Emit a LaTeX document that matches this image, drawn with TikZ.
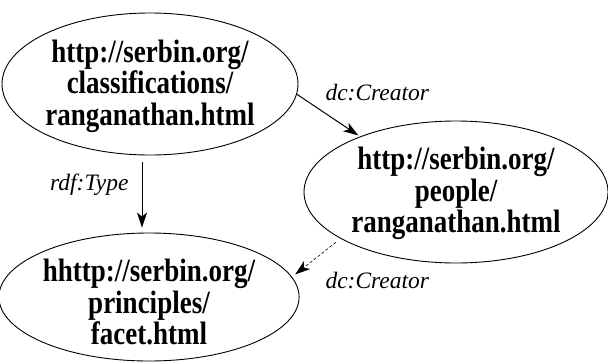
\documentclass[tikz,border=0pt]{standalone}
\usepackage{fontspec}
\setmainfont{Liberation Serif}
\usetikzlibrary{shapes.geometric,arrows.meta}

% node text is set a little taller than the font gives, and a little lower
\newcommand{\tallline}[2][2pt]{\raisebox{-#1}[\height][\depth]{\scalebox{1}[1.2]{#2}}}

\tikzset{
  res/.style={draw, ellipse, inner sep=0pt, line width=0.9pt, align=center,
    font=\fontsize{27}{31.5}\selectfont\bfseries},
  prop/.style={font=\fontsize{23.5}{26}\selectfont\itshape},
  arr/.style={-{Stealth[length=15pt,width=10pt,inset=4pt]}, line width=1pt},
  darr/.style={arr, line width=0.6pt, dash pattern=on 3pt off 2pt}
}

\begin{document}
\begin{tikzpicture}[x=1pt, y=-1pt]
          \useasboundingbox (0, 0) rectangle (608, 362);

          \node [res, minimum width=286, minimum height=142] (classif) at (150, 84)
            {\tallline{http://serbin.org/}\\\tallline{classifications/}\\\tallline{ranganathan.html}};
          \node [res, minimum width=304, minimum height=142] (people) at (456, 192)
            {\tallline[1.5pt]{http://serbin.org/}\\\tallline[1.5pt]{people/}\\\tallline[1.5pt]{ranganathan.html}};
          \node [res, minimum width=268, minimum height=128] (facet) at (149, 297)
            {\tallline[5pt]{hhttp://serbin.org/}\\\tallline[5pt]{principles/}\\\tallline[5pt]{facet.html}};

          \draw [arr, shorten <=7pt, shorten >=5pt] ([xshift=-8]classif.south) -- ([xshift=-7]facet.north);
          \draw [arr, shorten >=2pt] (classif.-4) -- (people.150);
          \draw [darr, shorten <=6pt, shorten >=4pt] (people.202) -- (facet.8);

          \node [prop, anchor=east] (type) at (132, 185) {rdf:Type};
          \node [prop, anchor=west] (creator) at (322, 93) {dc:Creator};
          \node [prop, anchor=west] (creator2) at (322, 281) {dc:Creator};
        \end{tikzpicture}
\end{document}
